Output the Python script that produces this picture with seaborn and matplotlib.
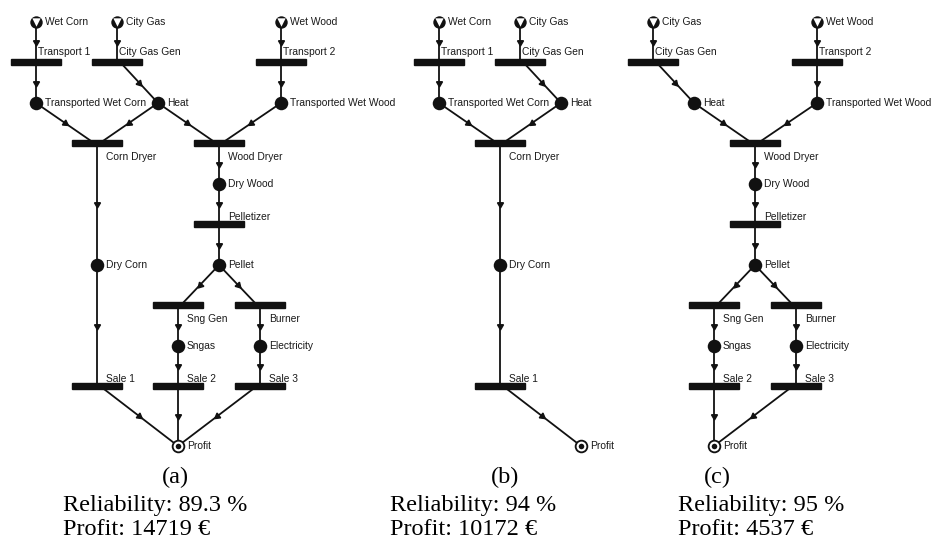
import numpy as np
import pandas as pd
import matplotlib
matplotlib.use("Agg")
import matplotlib.pyplot as plt
from matplotlib.patches import Rectangle
import seaborn as sns

# --- network data ---------------------------------------------------------
node_names = ["Wet Corn", "City Gas", "Wet Wood",
              "Transport 1", "City Gas Gen", "Transport 2",
              "Transported Wet Corn", "Heat", "Transported Wet Wood",
              "Corn Dryer", "Wood Dryer", "Dry Wood", "Pelletizer",
              "Dry Corn", "Pellet", "Sng Gen", "Burner", "Sngas", "Electricity",
              "Sale 1", "Sale 2", "Sale 3", "Profit"]
node_kinds = ["source", "source", "source",
              "trans", "trans", "trans",
              "place", "place", "place",
              "trans", "trans", "place", "trans",
              "place", "place", "trans", "trans", "place", "place",
              "trans", "trans", "trans", "sink"]

edges = [("Wet Corn", "Transport 1"), ("Transport 1", "Transported Wet Corn"),
         ("City Gas", "City Gas Gen"), ("City Gas Gen", "Heat"),
         ("Wet Wood", "Transport 2"), ("Transport 2", "Transported Wet Wood"),
         ("Transported Wet Corn", "Corn Dryer"), ("Heat", "Corn Dryer"),
         ("Heat", "Wood Dryer"), ("Transported Wet Wood", "Wood Dryer"),
         ("Corn Dryer", "Dry Corn"), ("Dry Corn", "Sale 1"), ("Sale 1", "Profit"),
         ("Wood Dryer", "Dry Wood"), ("Dry Wood", "Pelletizer"),
         ("Pelletizer", "Pellet"), ("Pellet", "Sng Gen"), ("Pellet", "Burner"),
         ("Sng Gen", "Sngas"), ("Burner", "Electricity"),
         ("Sngas", "Sale 2"), ("Electricity", "Sale 3"),
         ("Sale 2", "Profit"), ("Sale 3", "Profit")]

panel_tags = ["(a)", "(b)", "(c)"]
reliability = [89.3, 94, 95]
profit = [14719, 10172, 4537]
panel_nodes = [
    node_names,
    ["Wet Corn", "City Gas", "Transport 1", "City Gas Gen", "Transported Wet Corn",
     "Heat", "Corn Dryer", "Dry Corn", "Sale 1", "Profit"],
    ["City Gas", "Wet Wood", "City Gas Gen", "Transport 2", "Heat",
     "Transported Wet Wood", "Wood Dryer", "Dry Wood", "Pelletizer", "Pellet",
     "Sng Gen", "Burner", "Sngas", "Electricity", "Sale 2", "Sale 3", "Profit"],
]

# --- layout (pixels inside one panel, y downward) --------------------------
layout = {
    "Wet Corn": (36, 22), "City Gas": (117, 22), "Wet Wood": (281, 22),
    "Transport 1": (36, 62), "City Gas Gen": (117, 62), "Transport 2": (281, 62),
    "Transported Wet Corn": (36, 103), "Heat": (158, 103),
    "Transported Wet Wood": (281, 103),
    "Corn Dryer": (97, 143), "Wood Dryer": (219, 143),
    "Dry Wood": (219, 184), "Pelletizer": (219, 224),
    "Dry Corn": (97, 265), "Pellet": (219, 265),
    "Sng Gen": (178, 305), "Burner": (260, 305),
    "Sngas": (178, 346), "Electricity": (260, 346),
    "Sale 1": (97, 386), "Sale 2": (178, 386), "Sale 3": (260, 386),
    "Profit": (178, 446),
}
trans_label = {"Transport 1": "top", "City Gas Gen": "top", "Transport 2": "top",
               "Corn Dryer": "down", "Wood Dryer": "down", "Pelletizer": "up",
               "Sng Gen": "down", "Burner": "down",
               "Sale 1": "up", "Sale 2": "up", "Sale 3": "up"}
label_offset = {"top": (2, -10), "up": (9, -7), "down": (9, 14)}
panel_dx = [0, 403, 536]
caption_center = [175, 505, 717]
caption_left = [63, 390, 678]

kind_of = dict(zip(node_names, node_kinds))

sns.set_theme(style="white")
plt.rcParams["font.family"] = ["Liberation Sans", "DejaVu Sans"]

fig = plt.figure(figsize=(9.41, 5.40), dpi=100)
ax = fig.add_axes([0, 0, 1, 1])

rows = []
for p, names in enumerate(panel_nodes):
    for n in names:
        x, y = layout[n]
        rows.append({"panel": p, "name": n, "kind": kind_of[n],
                     "x": x + panel_dx[p], "y": y})
nodes = pd.DataFrame(rows)

ink = "#111111"

# edges with mid arrowheads
for p, names in enumerate(panel_nodes):
    dx0 = panel_dx[p]
    for a, b in edges:
        if a not in names or b not in names:
            continue
        (xa, ya), (xb, yb) = layout[a], layout[b]
        xa, xb = xa + dx0, xb + dx0
        # diagonal edges leave/enter bars a little off-centre
        if xa != xb:
            s = np.sign(xb - xa)
            if kind_of[a] == "trans":
                xa += 3 * s
            if kind_of[b] == "trans":
                xb -= 3 * s
        ax.plot([xa, xb], [ya, yb], color=ink, lw=1.3, zorder=1)
        ang = np.degrees(np.arctan2(-(yb - ya), xb - xa))
        ax.plot((xa + xb) / 2, (ya + yb) / 2, marker=(3, 0, ang - 90),
                ms=5, color=ink, mec=ink, zorder=2, ls="none")

# transitions as bars
for _, r in nodes[nodes.kind == "trans"].iterrows():
    ax.add_patch(Rectangle((r.x - 25, r.y - 3), 50, 6, color=ink, zorder=3))

# places
sns.scatterplot(data=nodes[nodes.kind == "place"], x="x", y="y", ax=ax,
                color=ink, s=95, marker="o", linewidth=0, zorder=4, legend=False)
src = nodes[nodes.kind == "source"]
sns.scatterplot(data=src, x="x", y="y", ax=ax, color=ink, s=80, marker="o",
                linewidth=0, zorder=4, legend=False)
sns.scatterplot(data=src, x="x", y="y", ax=ax, color="white", s=36, marker="v",
                linewidth=0, zorder=5, legend=False)
snk = nodes[nodes.kind == "sink"]
sns.scatterplot(data=snk, x="x", y="y", ax=ax, color=ink, s=95, marker="o",
                linewidth=0, zorder=4, legend=False)
sns.scatterplot(data=snk, x="x", y="y", ax=ax, color="white", s=50, marker="o",
                linewidth=0, zorder=5, legend=False)
sns.scatterplot(data=snk, x="x", y="y", ax=ax, color=ink, s=16, marker="o",
                linewidth=0, zorder=6, legend=False)
ax.set_xlim(0, 941)
ax.set_ylim(540, 0)
ax.axis("off")

# node labels
for _, r in nodes.iterrows():
    if r.kind == "trans":
        ox, oy = label_offset[trans_label[r["name"]]]
    else:
        ox, oy = 9, 0
    ax.text(r.x + ox, r.y + oy, r["name"], fontsize=7.4, color="#1a1a1a",
            ha="left", va="center", zorder=7)

# captions
serif = ["Liberation Serif", "DejaVu Serif"]
for p in range(3):
    ax.text(caption_center[p], 483, panel_tags[p], family=serif, fontsize=17.5,
            ha="center", va="baseline", color="black")
    ax.text(caption_left[p], 511, f"Reliability: {reliability[p]:g} %",
            family=serif, fontsize=17.5, ha="left", va="baseline", color="black")
    ax.text(caption_left[p], 535, f"Profit: {profit[p]} \u20ac",
            family=serif, fontsize=17.5, ha="left", va="baseline", color="black")

fig.savefig("out.png", dpi=100)
